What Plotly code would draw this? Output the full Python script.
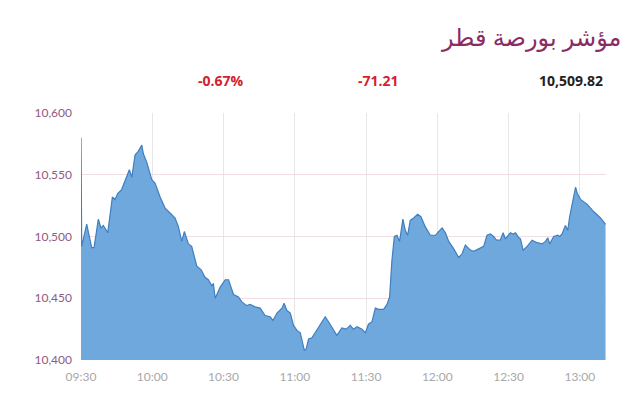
import plotly.graph_objects as go

title_text = "مؤشر بورصة قطر"
change_pct = "-0.67%"
change_pts = "-71.21"
last_value = "10,509.82"

times = [
    "09:30:00", "09:30:18", "09:32:24", "09:34:30", "09:35:30", "09:37:18", "09:38:24", "09:39:24",
    "09:41:15", "09:43:12", "09:44:18", "09:45:30", "09:47:06", "09:48:48", "09:50:21", "09:51:24",
    "09:52:45", "09:54:06", "09:55:36", "09:56:15", "09:57:42", "09:59:48", "10:01:12", "10:03:18",
    "10:05:24", "10:07:30", "10:09:36", "10:11:00", "10:12:24", "10:13:30", "10:15:12", "10:16:36",
    "10:18:45", "10:20:36", "10:22:12", "10:23:36", "10:25:06", "10:25:42", "10:26:30", "10:28:36",
    "10:30:42", "10:32:06", "10:34:12", "10:36:18", "10:37:42", "10:39:48", "10:41:12", "10:43:18",
    "10:45:24", "10:47:30", "10:49:36", "10:50:48", "10:52:30", "10:54:36", "10:55:30", "10:56:42",
    "10:58:06", "10:59:27", "11:00:54", "11:02:18", "11:04:00", "11:04:48", "11:05:48", "11:07:12",
    "11:09:18", "11:11:24", "11:12:48", "11:14:12", "11:16:18", "11:17:42", "11:19:48", "11:21:42",
    "11:23:18", "11:24:42", "11:26:12", "11:28:18", "11:29:42", "11:31:00", "11:32:30", "11:33:54",
    "11:35:18", "11:37:24", "11:38:48", "11:39:54", "11:40:54", "11:41:54", "11:43:00", "11:44:06",
    "11:45:30", "11:46:30", "11:47:30", "11:48:36", "11:50:00", "11:51:42", "11:53:06", "11:54:54",
    "11:57:03", "11:59:12", "12:00:30", "12:02:00", "12:03:24", "12:04:48", "12:06:54", "12:09:00",
    "12:10:24", "12:11:48", "12:13:54", "12:15:18", "12:17:24", "12:19:30", "12:20:54", "12:22:18",
    "12:23:42", "12:24:54", "12:26:30", "12:27:42", "12:28:39", "12:30:00", "12:30:45", "12:31:54",
    "12:32:54", "12:34:18", "12:35:00", "12:36:06", "12:37:48", "12:39:54", "12:42:00", "12:44:06",
    "12:45:30", "12:46:30", "12:47:18", "12:49:00", "12:50:42", "12:51:30", "12:52:30", "12:53:54",
    "12:54:54", "12:55:42", "12:56:45", "12:58:12", "12:58:54", "13:00:18", "13:03:06", "13:05:54",
    "13:08:42", "13:10:48",
]

values = [
    10580, 10492, 10510, 10491, 10491, 10514, 10507, 10509,
    10503, 10532, 10530, 10535, 10538, 10547, 10554, 10548,
    10566, 10569, 10574, 10567, 10560, 10546, 10543, 10532,
    10523, 10519, 10515, 10508, 10496, 10504, 10494, 10492,
    10476, 10473, 10467, 10465, 10460, 10462, 10450, 10459,
    10465, 10465, 10453, 10451, 10447, 10444, 10445, 10443,
    10442, 10436, 10435, 10432, 10438, 10442, 10446, 10440,
    10438, 10428, 10424, 10422, 10408, 10409, 10417, 10418,
    10424, 10431, 10435, 10431, 10425, 10420, 10426, 10425,
    10428, 10425, 10427, 10425, 10422, 10429, 10431, 10442,
    10441, 10441, 10445, 10451, 10481, 10500, 10501, 10496,
    10514, 10505, 10501, 10513, 10515, 10518, 10516, 10508,
    10501, 10501, 10504, 10507, 10503, 10496, 10490, 10483,
    10486, 10493, 10489, 10488, 10490, 10492, 10501, 10502,
    10500, 10497, 10497, 10503, 10498, 10501, 10503, 10502,
    10503, 10499, 10498, 10489, 10492, 10497, 10495, 10494,
    10496, 10499, 10494, 10500, 10501, 10500, 10502, 10509,
    10505, 10516, 10526, 10540, 10535, 10530, 10526, 10520,
    10515, 10509.82,
]

tick_times = ["09:30", "10:00", "10:30", "11:00", "11:30", "12:00", "12:30", "13:00"]
y_ticks = [10400, 10450, 10500, 10550, 10600]
y_tick_labels = ["10,400", "10,450", "10,500", "10,550", "10,600"]

day = "2024-01-01 "
x_vals = [day + t for t in times]
x_ticks = [day + t + ":00" for t in tick_times]

fig = go.Figure()
fig.add_trace(go.Scatter(
    x=x_vals, y=values, mode="lines",
    line=dict(color="#3f7fbf", width=1.2),
    fill="tozeroy", fillcolor="#6fa8dc",
    hoverinfo="skip",
))

fig.update_layout(
    width=632, height=396,
    margin=dict(l=73, r=34, t=105, b=44),
    paper_bgcolor="white", plot_bgcolor="white",
    showlegend=False,
    font=dict(family="Lato, Open Sans, sans-serif"),
)
fig.update_xaxes(
    range=[day + "09:30:00", day + "13:11:00"],
    tickvals=x_ticks, ticktext=tick_times,
    tickfont=dict(size=12, color="#a8a8a8"),
    showgrid=True, gridcolor="#e6e6e6", gridwidth=1,
    zeroline=False, showline=False, ticks="", ticklabelstandoff=8,
)
fig.update_yaxes(
    range=[10400, 10600],
    tickvals=y_ticks, ticktext=y_tick_labels,
    tickfont=dict(size=12, color="#8f5a80"),
    showgrid=True, gridcolor="#f0dde6", gridwidth=1,
    zeroline=False, showline=False, ticks="", ticklabelstandoff=8,
)

fig.add_annotation(text=title_text, xref="paper", yref="paper", x=(623 - 81) / 525, y=1.31,
                   xanchor="right", yanchor="middle", showarrow=False,
                   font=dict(size=24, color="#8c2a62", family="Noto Sans, DejaVu Sans"))
fig.add_annotation(text="<b>" + change_pct + "</b>", xref="paper", yref="paper",
                   x=(221 - 81) / 525, y=1.13, xanchor="center", yanchor="middle",
                   showarrow=False, font=dict(size=14, color="#d4202f", family="Open Sans"))
fig.add_annotation(text="<b>" + change_pts + "</b>", xref="paper", yref="paper",
                   x=(378 - 81) / 525, y=1.13, xanchor="center", yanchor="middle",
                   showarrow=False, font=dict(size=14, color="#d4202f", family="Open Sans"))
fig.add_annotation(text="<b>" + last_value + "</b>", xref="paper", yref="paper",
                   x=(571 - 81) / 525, y=1.13, xanchor="center", yanchor="middle",
                   showarrow=False, font=dict(size=14, color="#222222", family="Open Sans"))

fig.write_html("out.html")
